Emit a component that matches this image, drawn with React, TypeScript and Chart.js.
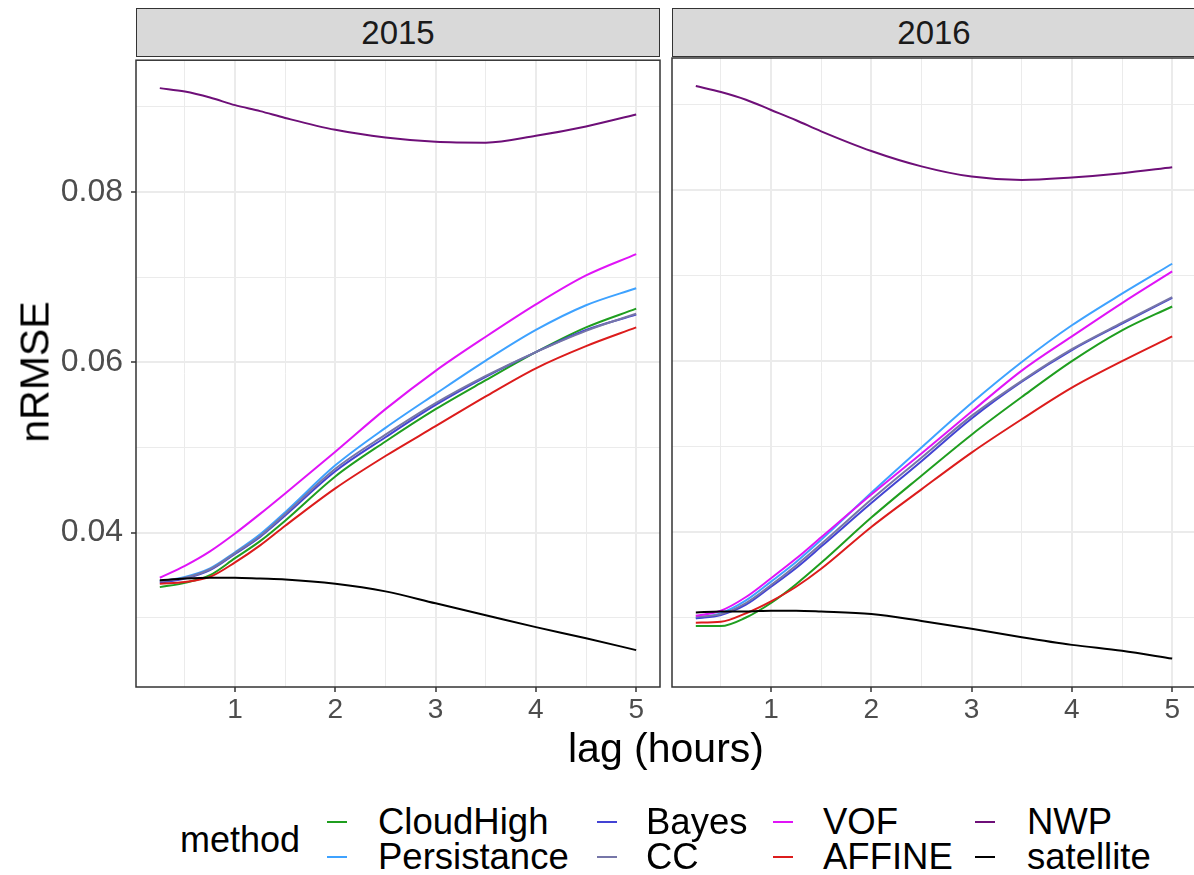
import React, { useEffect, useRef } from "react";
import { Chart, registerables } from "chart.js";
Chart.register(...registerables);

const FONT = '"Liberation Sans", Arial, sans-serif';
Chart.defaults.font.family = FONT;

const lags = [0.25, 0.5, 0.75, 1, 1.25, 1.5, 2, 2.5, 3, 3.5, 4, 4.5, 5];
const methods = ["CloudHigh", "Persistance", "Bayes", "CC", "VOF", "AFFINE", "NWP", "satellite"];
const methodColors = ["#1f9e1f", "#3ea2ff", "#4343d4", "#7676a8", "#e014f7", "#dc1c1c", "#6e0f78", "#000000"];
const years = ["2015", "2016"];

// 2015
const cloudHigh2015 = [0.0336, 0.0341, 0.0350, 0.0370, 0.0390, 0.0414, 0.0466, 0.0507, 0.0545, 0.0579, 0.0612, 0.0641, 0.0663];
const persistance2015 = [0.0343, 0.0348, 0.0358, 0.0377, 0.0398, 0.0424, 0.0479, 0.0523, 0.0563, 0.0602, 0.0638, 0.0667, 0.0687];
const bayes2015 = [0.0341, 0.0346, 0.0356, 0.0375, 0.0395, 0.0420, 0.0472, 0.0512, 0.0550, 0.0583, 0.0612, 0.0638, 0.0656];
const cc2015 = [0.0343, 0.0347, 0.0357, 0.0376, 0.0396, 0.0422, 0.0475, 0.0515, 0.0552, 0.0584, 0.0612, 0.0637, 0.0657];
const vof2015 = [0.0347, 0.0361, 0.0378, 0.0399, 0.0422, 0.0446, 0.0495, 0.0545, 0.0590, 0.0630, 0.0668, 0.0702, 0.0727];
const affine2015 = [0.0340, 0.0342, 0.0348, 0.0365, 0.0385, 0.0408, 0.0452, 0.0490, 0.0525, 0.0560, 0.0593, 0.0619, 0.0641];
const nwp2015 = [0.0922, 0.0918, 0.0911, 0.0902, 0.0895, 0.0887, 0.0873, 0.0864, 0.0859, 0.0858, 0.0866, 0.0877, 0.0891];
const satellite2015 = [0.0344, 0.0346, 0.0347, 0.0347, 0.0346, 0.0345, 0.0340, 0.0331, 0.0317, 0.0303, 0.0289, 0.0276, 0.0262];

// 2016
const cloudHigh2016 = [0.0290, 0.0290, 0.0300, 0.0317, 0.0339, 0.0364, 0.0417, 0.0466, 0.0514, 0.0558, 0.0600, 0.0636, 0.0664];
const persistance2016 = [0.0299, 0.0305, 0.0320, 0.0342, 0.0365, 0.0391, 0.0446, 0.0499, 0.0551, 0.0599, 0.0642, 0.0679, 0.0714];
const bayes2016 = [0.0299, 0.0303, 0.0315, 0.0336, 0.0358, 0.0383, 0.0434, 0.0483, 0.0533, 0.0576, 0.0613, 0.0644, 0.0674];
const cc2016 = [0.0301, 0.0304, 0.0317, 0.0338, 0.0361, 0.0386, 0.0438, 0.0487, 0.0536, 0.0577, 0.0614, 0.0645, 0.0675];
const vof2016 = [0.0302, 0.0308, 0.0324, 0.0346, 0.0369, 0.0394, 0.0444, 0.0492, 0.0541, 0.0589, 0.0629, 0.0668, 0.0705];
const affine2016 = [0.0294, 0.0295, 0.0305, 0.0319, 0.0336, 0.0357, 0.0406, 0.0450, 0.0493, 0.0532, 0.0569, 0.0600, 0.0629];
const nwp2016 = [0.0922, 0.0915, 0.0906, 0.0894, 0.0882, 0.0869, 0.0846, 0.0828, 0.0816, 0.0812, 0.0815, 0.0820, 0.0827];
const satellite2016 = [0.0306, 0.0307, 0.0307, 0.0308, 0.0308, 0.0307, 0.0304, 0.0296, 0.0287, 0.0277, 0.0268, 0.0261, 0.0252];

const series2015 = [cloudHigh2015, persistance2015, bayes2015, cc2015, vof2015, affine2015, nwp2015, satellite2015];
const series2016 = [cloudHigh2016, persistance2016, bayes2016, cc2016, vof2016, affine2016, nwp2016, satellite2016];

const xTicks = [0.5, 1, 1.5, 2, 2.5, 3, 3.5, 4, 4.5, 5];
const yTicks = [0.03, 0.04, 0.05, 0.06, 0.07, 0.08, 0.09];
const xMin = 0.0125;
const xMax = 5.2375;
const yMin = 0.02187;
const yMax = 0.09548;

const PLOT_H = 629;

const panelBorder = {
  id: "panelBorder",
  afterDraw(chart: any) {
    const { ctx, chartArea: a } = chart;
    ctx.save();
    ctx.strokeStyle = "#333333";
    ctx.lineWidth = 1.5;
    ctx.strokeRect(a.left, a.top, a.right - a.left, a.bottom - a.top);
    ctx.restore();
  },
};

const isMajorX = (v: number) => Math.abs(v - Math.round(v)) < 1e-6;
const isMajorY = (v: number) => Math.round(v * 100) % 2 === 0;

function Panel(props: { series: number[][]; showY: boolean; left: number; width: number }) {
  const ref = useRef<HTMLCanvasElement | null>(null);
  const { series, showY, left, width } = props;
  const top = 33;
  const height = 715;
  useEffect(() => {
    if (!ref.current) return;
    const padTop = 25;
    const chart = new Chart(ref.current, {
      type: "line",
      data: {
        datasets: methods.map((m, i) => ({
          label: m,
          data: lags.map((x, j) => ({ x, y: series[i][j] })),
          borderColor: methodColors[i],
          backgroundColor: methodColors[i],
          borderWidth: 2,
          pointRadius: 0,
          fill: false,
          cubicInterpolationMode: "monotone",
          order: -i,
        })),
      },
      options: {
        animation: false,
        responsive: false,
        devicePixelRatio: 1,
        layout: { padding: { top: padTop, left: showY ? 0 : 10, right: showY ? 2 : 6, bottom: 0 } },
        plugins: { legend: { display: false }, tooltip: { enabled: false } },
        scales: {
          x: {
            type: "linear",
            min: xMin,
            max: xMax,
            afterBuildTicks: (s: any) => {
              s.ticks = xTicks.map((v) => ({ value: v }));
            },
            afterFit: (s: any) => {
              s.height = height - padTop - PLOT_H;
            },
            border: { display: false },
            grid: {
              color: "#ebebeb",
              lineWidth: (c: any) => (c.tick && isMajorX(c.tick.value) ? 2 : 1),
              tickLength: 5,
              tickWidth: 1.5,
              tickColor: (c: any) => (c.tick && isMajorX(c.tick.value) ? "#333333" : "rgba(0,0,0,0)"),
            },
            ticks: {
              autoSkip: false,
              maxRotation: 0,
              padding: 1,
              color: "#4d4d4d",
              font: { size: 28, family: FONT },
              callback: (v: any) => (isMajorX(Number(v)) ? String(Math.round(Number(v))) : ""),
            },
          },
          y: {
            type: "linear",
            min: yMin,
            max: yMax,
            afterBuildTicks: (s: any) => {
              s.ticks = yTicks.map((v) => ({ value: v }));
            },
            afterFit: (s: any) => {
              s.width = showY ? 136 : 0;
            },
            border: { display: false },
            grid: {
              color: "#ebebeb",
              lineWidth: (c: any) => (c.tick && isMajorY(c.tick.value) ? 2 : 1),
              drawTicks: showY,
              tickLength: 5,
              tickWidth: 1.5,
              tickColor: (c: any) => (c.tick && isMajorY(c.tick.value) ? "#333333" : "rgba(0,0,0,0)"),
            },
            ticks: {
              display: showY,
              autoSkip: false,
              padding: 8,
              color: "#4d4d4d",
              font: { size: 32, family: FONT },
              callback: (v: any) => (isMajorY(Number(v)) ? Number(v).toFixed(2) : ""),
            },
          },
        },
      },
      plugins: [panelBorder],
    } as any);
    return () => chart.destroy();
  }, [series, showY]);
  return (
    <canvas
      ref={ref}
      width={width}
      height={height}
      style={{ position: "absolute", left, top, width, height, display: "block" }}
    />
  );
}

function Strip(props: { left: number; label: string }) {
  return (
    <div
      style={{
        position: "absolute",
        left: props.left,
        top: 8,
        width: 524,
        height: 49,
        boxSizing: "border-box",
        background: "#d9d9d9",
        border: "1.5px solid #333333",
        display: "flex",
        alignItems: "center",
        justifyContent: "center",
        fontSize: 33,
        color: "#1a1a1a",
        fontFamily: FONT,
      }}
    >
      {props.label}
    </div>
  );
}

const legendCols = [
  { key: 327, text: 378 },
  { key: 597, text: 646 },
  { key: 773, text: 823 },
  { key: 975, text: 1027 },
];
const legendRows = [822, 857];

export default function App() {
  return (
    <div
      style={{
        position: "fixed",
        left: 0,
        top: 0,
        width: 1194,
        height: 875,
        overflow: "hidden",
        background: "#ffffff",
        fontFamily: FONT,
      }}
    >
      <Panel series={series2015} showY={true} left={0} width={662} />
      <Panel series={series2016} showY={false} left={662} width={540} />
      <Strip left={136} label={years[0]} />
      <Strip left={672} label={years[1]} />
      <div
        style={{
          position: "absolute",
          left: 35,
          top: 372,
          transform: "translate(-50%, -50%) rotate(-90deg)",
          fontSize: 41,
          color: "#000",
          whiteSpace: "nowrap",
          lineHeight: 1,
        }}
      >
        nRMSE
      </div>
      <div
        style={{
          position: "absolute",
          left: 666,
          top: 748,
          transform: "translate(-50%, -50%)",
          fontSize: 41,
          color: "#000",
          whiteSpace: "nowrap",
          lineHeight: 1,
        }}
      >
        lag (hours)
      </div>
      <div
        style={{
          position: "absolute",
          left: 180,
          top: 840,
          transform: "translateY(-50%)",
          fontSize: 36,
          color: "#000",
          lineHeight: 1,
        }}
      >
        method
      </div>
      {methods.map((m, i) => {
        const col = legendCols[Math.floor(i / 2)];
        const y = legendRows[i % 2];
        return (
          <React.Fragment key={m}>
            <div
              style={{
                position: "absolute",
                left: col.key,
                top: y - 1,
                width: 20,
                height: 2,
                background: methodColors[i],
              }}
            />
            <div
              style={{
                position: "absolute",
                left: col.text,
                top: y,
                transform: "translateY(-50%)",
                fontSize: 36.5,
                color: "#000",
                lineHeight: 1,
                whiteSpace: "nowrap",
              }}
            >
              {m}
            </div>
          </React.Fragment>
        );
      })}
    </div>
  );
}
